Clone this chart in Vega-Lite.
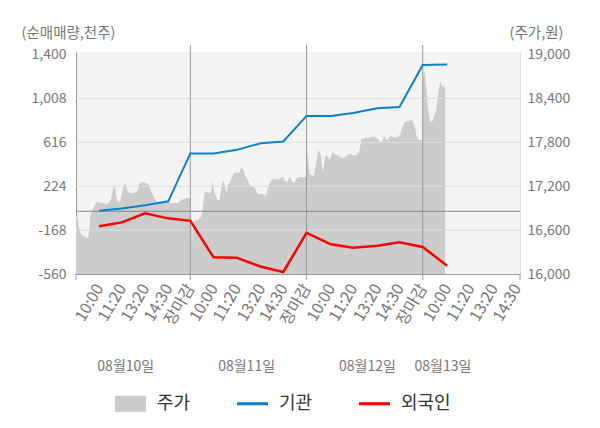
{
  "$schema": "https://vega.github.io/schema/vega-lite/v6.json",
  "width": 444,
  "height": 222,
  "autosize": {"type": "none"},
  "padding": {"left": 76, "top": 52, "right": 80, "bottom": 154},
  "config": {
    "font": "Noto Sans CJK KR",
    "view": {"fill": "#f4f4f4", "stroke": null},
    "axis": {"labelOverlap": false}
  },
  "datasets": {
    "price": [
      {"t":0.016,"p":16792},{"t":0.029,"p":16778},{"t":0.038,"p":16655},{"t":0.051,"p":16601},{"t":0.059,"p":16546},{"t":0.077,"p":16519},{"t":0.094,"p":16505},{"t":0.111,"p":16492},{"t":0.124,"p":16505},{"t":0.133,"p":16655},{"t":0.141,"p":16819},{"t":0.154,"p":16847},{"t":0.171,"p":16929},{"t":0.188,"p":16970},{"t":0.206,"p":16983},{"t":0.223,"p":16970},{"t":0.249,"p":16970},{"t":0.275,"p":16956},{"t":0.300,"p":16970},{"t":0.318,"p":17024},{"t":0.326,"p":17092},{"t":0.339,"p":17174},{"t":0.352,"p":17202},{"t":0.365,"p":17038},{"t":0.378,"p":16970},{"t":0.395,"p":16997},{"t":0.412,"p":17106},{"t":0.429,"p":17215},{"t":0.442,"p":17243},{"t":0.455,"p":17147},{"t":0.472,"p":17106},{"t":0.490,"p":17106},{"t":0.515,"p":17106},{"t":0.533,"p":17120},{"t":0.550,"p":17147},{"t":0.563,"p":17243},{"t":0.576,"p":17256},{"t":0.593,"p":17256},{"t":0.619,"p":17243},{"t":0.636,"p":17229},{"t":0.653,"p":17174},{"t":0.670,"p":17106},{"t":0.696,"p":17024},{"t":0.722,"p":16956},{"t":0.739,"p":16956},{"t":0.756,"p":16983},{"t":0.782,"p":16983},{"t":0.808,"p":16983},{"t":0.834,"p":16970},{"t":0.868,"p":16970},{"t":0.894,"p":16970},{"t":0.920,"p":17011},{"t":0.946,"p":17024},{"t":0.972,"p":17038},{"t":0.997,"p":17038},
      {"t":1.002,"p":16847},{"t":1.010,"p":16710},{"t":1.015,"p":16396},{"t":1.021,"p":16669},{"t":1.032,"p":16724},{"t":1.058,"p":16737},{"t":1.075,"p":16751},{"t":1.092,"p":16778},{"t":1.105,"p":16847},{"t":1.114,"p":17011},{"t":1.122,"p":17106},{"t":1.144,"p":17120},{"t":1.170,"p":17106},{"t":1.182,"p":17147},{"t":1.191,"p":17270},{"t":1.200,"p":17174},{"t":1.213,"p":17092},{"t":1.225,"p":17038},{"t":1.238,"p":17011},{"t":1.251,"p":17011},{"t":1.264,"p":17147},{"t":1.273,"p":17243},{"t":1.286,"p":17270},{"t":1.299,"p":17188},{"t":1.312,"p":17120},{"t":1.324,"p":17202},{"t":1.333,"p":17243},{"t":1.350,"p":17284},{"t":1.359,"p":17325},{"t":1.376,"p":17379},{"t":1.393,"p":17393},{"t":1.411,"p":17379},{"t":1.423,"p":17393},{"t":1.432,"p":17434},{"t":1.445,"p":17448},{"t":1.458,"p":17420},{"t":1.471,"p":17352},{"t":1.484,"p":17311},{"t":1.497,"p":17270},{"t":1.514,"p":17202},{"t":1.540,"p":17188},{"t":1.557,"p":17174},{"t":1.565,"p":17133},{"t":1.583,"p":17092},{"t":1.617,"p":17092},{"t":1.643,"p":17079},{"t":1.651,"p":17065},{"t":1.660,"p":17120},{"t":1.673,"p":17202},{"t":1.686,"p":17256},{"t":1.703,"p":17297},{"t":1.729,"p":17297},{"t":1.763,"p":17297},{"t":1.781,"p":17325},{"t":1.798,"p":17325},{"t":1.815,"p":17270},{"t":1.832,"p":17256},{"t":1.849,"p":17311},{"t":1.858,"p":17325},{"t":1.871,"p":17270},{"t":1.884,"p":17243},{"t":1.901,"p":17256},{"t":1.910,"p":17297},{"t":1.927,"p":17325},{"t":1.953,"p":17325},{"t":1.978,"p":17325},{"t":1.996,"p":17325},
      {"t":2.002,"p":17625},{"t":2.009,"p":17666},{"t":2.017,"p":17489},{"t":2.026,"p":17366},{"t":2.047,"p":17352},{"t":2.060,"p":17338},{"t":2.069,"p":17393},{"t":2.077,"p":17475},{"t":2.090,"p":17584},{"t":2.099,"p":17666},{"t":2.108,"p":17693},{"t":2.116,"p":17652},{"t":2.125,"p":17598},{"t":2.133,"p":17475},{"t":2.142,"p":17393},{"t":2.151,"p":17502},{"t":2.159,"p":17584},{"t":2.172,"p":17625},{"t":2.185,"p":17598},{"t":2.198,"p":17557},{"t":2.211,"p":17611},{"t":2.224,"p":17666},{"t":2.237,"p":17652},{"t":2.254,"p":17625},{"t":2.271,"p":17625},{"t":2.288,"p":17598},{"t":2.314,"p":17584},{"t":2.331,"p":17598},{"t":2.349,"p":17625},{"t":2.374,"p":17639},{"t":2.400,"p":17625},{"t":2.426,"p":17625},{"t":2.443,"p":17639},{"t":2.456,"p":17693},{"t":2.473,"p":17857},{"t":2.495,"p":17844},{"t":2.512,"p":17871},{"t":2.529,"p":17857},{"t":2.546,"p":17871},{"t":2.564,"p":17871},{"t":2.581,"p":17885},{"t":2.598,"p":17857},{"t":2.615,"p":17844},{"t":2.632,"p":17816},{"t":2.650,"p":17803},{"t":2.667,"p":17898},{"t":2.680,"p":17857},{"t":2.693,"p":17830},{"t":2.710,"p":17871},{"t":2.727,"p":17885},{"t":2.744,"p":17871},{"t":2.762,"p":17871},{"t":2.779,"p":17871},{"t":2.796,"p":17885},{"t":2.809,"p":17925},{"t":2.822,"p":17994},{"t":2.839,"p":18062},{"t":2.856,"p":18089},{"t":2.873,"p":18089},{"t":2.891,"p":18103},{"t":2.908,"p":18103},{"t":2.921,"p":18062},{"t":2.934,"p":17994},{"t":2.947,"p":17885},{"t":2.960,"p":17844},{"t":2.977,"p":17830},{"t":2.994,"p":17830},
      {"t":3.003,"p":18649},{"t":3.009,"p":18786},{"t":3.016,"p":18759},{"t":3.024,"p":18649},{"t":3.033,"p":18485},{"t":3.041,"p":18349},{"t":3.050,"p":18212},{"t":3.059,"p":18103},{"t":3.071,"p":18076},{"t":3.080,"p":18076},{"t":3.089,"p":18117},{"t":3.097,"p":18158},{"t":3.110,"p":18199},{"t":3.119,"p":18267},{"t":3.127,"p":18376},{"t":3.136,"p":18499},{"t":3.145,"p":18581},{"t":3.153,"p":18636},{"t":3.162,"p":18595},{"t":3.170,"p":18554},{"t":3.179,"p":18581},{"t":3.188,"p":18540},{"t":3.192,"p":18540}
    ],
    "flow": [
      {"t":0.215,"s":"기관","v":5},{"t":0.41,"s":"기관","v":26},{"t":0.61,"s":"기관","v":55},{"t":0.81,"s":"기관","v":89},{"t":1.0,"s":"기관","v":517},{"t":1.2,"s":"기관","v":517},{"t":1.4,"s":"기관","v":549},{"t":1.61,"s":"기관","v":609},{"t":1.8,"s":"기관","v":624},{"t":2.0,"s":"기관","v":852},{"t":2.21,"s":"기관","v":852},{"t":2.4,"s":"기관","v":879},{"t":2.61,"s":"기관","v":921},{"t":2.8,"s":"기관","v":932},{"t":3.0,"s":"기관","v":1307},{"t":3.21,"s":"기관","v":1311},
      {"t":0.215,"s":"외국인","v":-134},{"t":0.41,"s":"외국인","v":-99},{"t":0.61,"s":"외국인","v":-18},{"t":0.81,"s":"외국인","v":-63},{"t":1.0,"s":"외국인","v":-85},{"t":1.2,"s":"외국인","v":-411},{"t":1.4,"s":"외국인","v":-415},{"t":1.61,"s":"외국인","v":-495},{"t":1.8,"s":"외국인","v":-542},{"t":2.0,"s":"외국인","v":-192},{"t":2.21,"s":"외국인","v":-295},{"t":2.4,"s":"외국인","v":-325},{"t":2.61,"s":"외국인","v":-308},{"t":2.8,"s":"외국인","v":-277},{"t":3.0,"s":"외국인","v":-319},{"t":3.21,"s":"외국인","v":-486}
    ]
  },
  "layer": [
    {
      "data": {"name": "price"},
      "mark": {"type": "area", "interpolate": "linear"},
      "encoding": {
        "x": {
          "field": "t", "type": "quantitative",
          "scale": {"domain": [0.016, 3.837], "nice": false, "zero": false},
          "axis": {
            "orient": "bottom", "values": [0.44, 1.48, 2.52, 3.17], "tickCount": 100,
            "labelExpr": "['08월10일','08월11일','08월12일','08월13일'][floor(datum.value)]",
            "ticks": false, "domain": false, "grid": false, "labelAngle": 0,
            "labelPadding": 92, "labelBaseline": "middle", "labelAlign": "center",
            "labelFontSize": 14, "labelColor": "#777777", "labelFlush": false,
            "labelOverlap": false, "title": null
          }
        },
        "y": {
          "field": "p", "type": "quantitative",
          "scale": {"domain": [16000, 19035], "nice": false, "zero": false},
          "axis": {
            "orient": "right", "values": [16000, 16600, 17200, 17800, 18400, 19000], "tickCount": 100,
            "labelExpr": "replace(format(datum.value, ',.0f'), '\u2212', '-')",
            "grid": false, "ticks": false, "domain": true,
            "domainColor": "#dddddd", "labelPadding": 7, "labelFontSize": 14,
            "labelColor": "#777777", "labelFlush": false,
            "title": "(주가,원)", "titleAngle": 0, "titleX": 16, "titleY": -19,
            "titleAlign": "center", "titleBaseline": "middle", "titleFontSize": 14.5,
            "titleFontWeight": "normal", "titleColor": "#777777"
          }
        },
        "y2": {"datum": 16000},
        "color": {"datum": "주가", "type": "nominal",
          "scale": {"domain": ["주가", "기관", "외국인"], "range": ["#cccccc", "#0a82cd", "#ff0000"]}}
      }
    },
    {
      "layer": [
        {
          "data": {"values": [{"g": -168}, {"g": 224}, {"g": 616}, {"g": 1008}]},
          "mark": {"type": "rule", "color": "#dddddd", "strokeWidth": 1},
          "encoding": {
            "y": {"field": "g", "type": "quantitative", "scale": {"domain": [-560, 1423], "nice": false, "zero": false}}
          }
        },
        {
          "data": {"values": [{}]},
          "mark": {"type": "rule", "color": "#888888", "strokeWidth": 1},
          "encoding": {
            "y": {"datum": 0, "type": "quantitative", "scale": {"domain": [-560, 1423], "nice": false, "zero": false}}
          }
        },
        {
          "data": {"values": [{"t": 1}, {"t": 2}, {"t": 3}]},
          "mark": {"type": "rule", "color": "#999999", "strokeWidth": 1},
          "encoding": {
            "x": {"field": "t", "type": "quantitative", "scale": {"domain": [0.016, 3.837], "nice": false, "zero": false}},
            "y": {"datum": 1485, "type": "quantitative", "scale": {"domain": [-560, 1423], "nice": false, "zero": false}},
            "y2": {"datum": -613}
          }
        },
        {
          "data": {"values": [{"t": 0.016}, {"t": 3.837}]},
          "mark": {"type": "rule", "color": "#999999", "strokeWidth": 1},
          "encoding": {
            "x": {"field": "t", "type": "quantitative", "scale": {"domain": [0.016, 3.837], "nice": false, "zero": false}},
            "y": {"datum": -560, "type": "quantitative", "scale": {"domain": [-560, 1423], "nice": false, "zero": false}},
            "y2": {"datum": -613}
          }
        },
        {
          "data": {"name": "flow"},
          "mark": {"type": "line", "interpolate": "linear"},
          "encoding": {
            "x": {
              "field": "t", "type": "quantitative",
              "scale": {"domain": [0.016, 3.837], "nice": false, "zero": false},
              "axis": {
                "orient": "bottom",
                "values": [0.215, 0.41, 0.61, 0.81, 1, 1.2, 1.4, 1.61, 1.8, 2, 2.21, 2.4, 2.61, 2.8, 3, 3.21, 3.41, 3.61, 3.81],
                "tickCount": 100,
                "labelExpr": "['장마감','10:00','11:20','13:20','14:30'][round((datum.value % 1) * 5) % 5]",
                "ticks": false, "domain": true, "domainColor": "#999999", "grid": false,
                "labelAngle": -60, "labelPadding": 11, "labelFontSize": 16,
                "labelColor": "#777777", "labelFlush": false, "labelOverlap": false,
                "title": null,
                "encode": {"labels": {"update": {"fill": {"signal": "datum.value % 1 < 0.05 ? '#ff0000' : (datum.value > 3.1 && datum.value < 3.3 ? '#333333' : '#777777')"}}}}
              }
            },
            "y": {
              "field": "v", "type": "quantitative",
              "scale": {"domain": [-560, 1423], "nice": false, "zero": false},
              "axis": {
                "orient": "left", "values": [-560, -168, 224, 616, 1008, 1400], "tickCount": 100,
                "labelExpr": "replace(format(datum.value, ',.0f'), '\u2212', '-')",
                "grid": false, "ticks": false, "domain": true,
                "domainColor": "#999999", "labelPadding": 10, "labelFontSize": 14,
                "labelColor": "#777777", "labelFlush": false,
                "title": "(순매매량,천주)", "titleAngle": 0, "titleX": -8, "titleY": -19,
                "titleAlign": "center", "titleBaseline": "middle", "titleFontSize": 14.5,
                "titleFontWeight": "normal", "titleColor": "#777777"
              }
            },
            "color": {
              "field": "s", "type": "nominal",
              "scale": {"domain": ["주가", "기관", "외국인"], "range": ["#cccccc", "#0a82cd", "#ff0000"]},
              "legend": {
                "orient": "none", "legendX": 39, "legendY": 336, "direction": "horizontal",
                "title": null, "symbolSize": 961,
                "labelFontSize": 18, "labelColor": "#333333", "columnPadding": 46, "labelOffset": 11,
                "padding": 0,
                "encode": {"symbols": {"update": {
                  "shape": {"signal": "datum.label === '주가' ? 'M-1,-0.52H1V0.52H-1Z' : 'M-1,-0.1H1V0.1H-1Z'"},
                  "fill": {"scale": "color", "field": "value"},
                  "stroke": {"value": null},
                  "strokeWidth": {"value": 0},
                  "opacity": {"value": 1},
                  "fillOpacity": {"value": 1}
                }}}
              }
            },
            "strokeWidth": {
              "field": "s", "type": "nominal",
              "scale": {"domain": ["기관", "외국인"], "range": [2, 2.5]},
              "legend": null
            }
          }
        }
      ]
    }
  ],
  "resolve": {"scale": {"y": "independent"}, "axis": {"x": "independent"}}
}
